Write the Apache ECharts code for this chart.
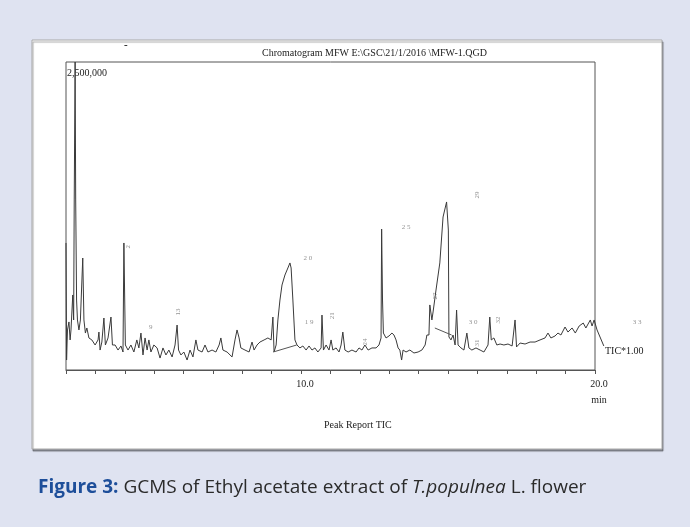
<!DOCTYPE html>
<html>
<head>
<meta charset="utf-8">
<script src="https://cdn.jsdelivr.net/npm/echarts@6/dist/echarts.min.js"></script>
<style>
  html, body { margin: 0; padding: 0; background: #dfe3f1; }
  #chart { width: 690px; height: 527px; }
</style>
</head>
<body>
<div id="chart"></div>
<script>
// retention time (min) and TIC intensity (x1000 counts)
const times = [
  2.00, 2.02, 2.05, 2.10, 2.14, 2.17, 2.23, 2.26, 2.28, 2.31, 2.33, 2.36, 2.39, 2.44, 2.49, 2.57, 2.61, 2.66, 2.71, 2.78,
  2.88, 2.99, 3.09, 3.12, 3.16, 3.22, 3.29, 3.34, 3.43, 3.53, 3.58, 3.67, 3.77, 3.87, 3.94, 3.97, 4.00, 4.02, 4.11, 4.21,
  4.31, 4.41, 4.48, 4.55, 4.62, 4.69, 4.76, 4.82, 4.89, 4.99, 5.10, 5.20, 5.30, 5.40, 5.50, 5.61, 5.71, 5.78, 5.83, 5.91,
  6.01, 6.12, 6.22, 6.32, 6.42, 6.49, 6.63, 6.73, 6.83, 6.97, 7.10, 7.21, 7.27, 7.34, 7.48, 7.65, 7.75, 7.82, 7.89, 7.95,
  8.09, 8.23, 8.33, 8.40, 8.50, 8.60, 8.74, 8.87, 8.98, 9.04, 9.08, 9.15, 9.21, 9.28, 9.35, 9.45, 9.55, 9.62, 9.66, 9.72,
  9.79, 9.86, 9.96, 10.06, 10.17, 10.27, 10.37, 10.47, 10.57, 10.68, 10.71, 10.76, 10.85, 10.95, 11.02, 11.08, 11.19, 11.29, 11.36, 11.42,
  11.49, 11.60, 11.73, 11.87, 11.97, 12.07, 12.17, 12.28, 12.41, 12.55, 12.65, 12.72, 12.74, 12.77, 12.80, 12.89, 12.99, 13.09, 13.16, 13.23,
  13.30, 13.36, 13.42, 13.47, 13.57, 13.70, 13.84, 13.98, 14.11, 14.22, 14.28, 14.35, 14.38, 14.42, 14.45, 14.49, 14.59, 14.72, 14.83, 14.95,
  15.01, 15.03, 15.10, 15.17, 15.24, 15.29, 15.34, 15.44, 15.54, 15.64, 15.71, 15.81, 15.95, 16.09, 16.22, 16.36, 16.42, 16.47, 16.56, 16.66,
  16.77, 16.90, 17.04, 17.18, 17.24, 17.28, 17.33, 17.45, 17.62, 17.79, 17.96, 18.13, 18.30, 18.40, 18.50, 18.64, 18.74, 18.84, 18.98, 19.08,
  19.22, 19.33, 19.46, 19.60, 19.69, 19.84, 19.90, 19.97
];
const tic = [
  1031, 81, 325, 390, 244, 325, 609, 406, 1380, 2500, 1380, 568, 406, 325, 406, 909, 406, 300, 341, 260,
  244, 203, 244, 308, 162, 227, 422, 203, 260, 430, 203, 203, 162, 195, 146, 1031, 1031, 203, 162, 203,
  146, 244, 179, 300, 122, 260, 162, 244, 146, 203, 179, 97, 179, 122, 162, 106, 203, 365, 162, 122,
  146, 81, 162, 106, 244, 162, 146, 203, 146, 162, 146, 203, 260, 162, 146, 106, 244, 325, 260, 179,
  162, 146, 227, 162, 203, 227, 244, 260, 244, 430, 146, 203, 406, 568, 690, 771, 828, 869, 828, 568,
  244, 203, 179, 195, 162, 195, 162, 179, 146, 179, 446, 162, 203, 162, 244, 162, 179, 146, 203, 308,
  162, 146, 162, 146, 179, 162, 203, 162, 179, 179, 203, 260, 1144, 568, 300, 260, 276, 300, 284, 244,
  179, 162, 81, 162, 146, 162, 138, 146, 162, 203, 284, 284, 528, 544, 406, 471, 649, 869, 1242, 1364,
  1136, 268, 244, 284, 203, 487, 203, 179, 162, 300, 179, 162, 179, 162, 146, 203, 430, 244, 260, 203,
  211, 203, 211, 195, 203, 406, 187, 219, 211, 227, 227, 244, 260, 300, 260, 276, 300, 284, 349, 308,
  341, 300, 357, 381, 341, 406, 357, 406
];

// trace leaving the frame on the right, down to the TIC*1.00 note
const tailT = [19.97, 20.07, 20.30];
const tailI = [406, 325, 195];

// straight integration baselines drawn under peaks 20 and 29
const base20T = [9.05, 9.85];
const base20I = [146, 203];
const base29T = [14.55, 15.12];
const base29I = [341, 284];

// peak numbers printed near the trace
const peakText = ['2', '9', '13', '2 0', '1 9', '21', '24', '2 5', '27', '29', '3 0', '31', '32', '3 3'];
const peakT = [4.10, 4.88, 5.80, 10.23, 10.27, 11.05, 12.17, 13.57, 14.56, 15.98, 15.85, 15.98, 16.70, 21.43];
const peakI = [1000, 345, 470, 909, 390, 440, 227, 1161, 600, 1420, 390, 219, 406, 390];
const peakRot = [90, 0, 90, 0, 0, 90, 90, 0, 90, 90, 0, 90, 90, 0];

const xLabels = { 10: '10.0', 20: '20.0\nmin' };
const yMax = 2500;

const serif = 'Liberation Serif';
const chart = echarts.init(document.getElementById('chart'));

const trace = times.map((t, i) => [t, tic[i]]);
const tail = tailT.map((t, i) => [t, tailI[i]]);
const labels = peakT.map((t, i) => ({
  value: [t, peakI[i]],
  label: { formatter: peakText[i], rotate: peakRot[i] }
}));

// 29.39 px per minute, so an axis running to 21 min reaches just past the frame
const pxPerMin = 529 / 18;

chart.setOption({
  backgroundColor: '#dfe3f1',
  animation: false,
  graphic: [
    {
      type: 'rect', z: -10,
      shape: { x: 32, y: 40, width: 630, height: 409 },
      style: { fill: '#fff', stroke: '#a8a8a8', lineWidth: 1, shadowColor: 'rgba(0,0,0,0.35)', shadowOffsetX: 1, shadowOffsetY: 2, shadowBlur: 1 }
    },
    {
      type: 'text', left: 262, top: 48,
      style: { text: 'Chromatogram MFW E:\\GSC\\21/1/2016 \\MFW-1.QGD', font: '10px "Liberation Serif"', fill: '#222' }
    },
    { type: 'text', left: 124, top: 40, style: { text: '-', font: 'bold 11px "Liberation Serif"', fill: '#222' } },
    { type: 'text', left: 605, top: 346, style: { text: 'TIC*1.00', font: '10px "Liberation Serif"', fill: '#222' } },
    { type: 'text', left: 324, top: 420, style: { text: 'Peak Report TIC', font: '10px "Liberation Serif"', fill: '#222' } },
    {
      type: 'text', left: 38, top: 478,
      style: {
        text: '{b|Figure 3:} GCMS of Ethyl acetate extract of {i|T.populnea} L. flower',
        font: '19px "Open Sans"', fill: '#2b2b2b',
        rich: {
          b: { fontFamily: 'Open Sans', fontSize: 19, fontWeight: 'bold', fill: '#1d4e9a', color: '#1d4e9a' },
          i: { fontFamily: 'Open Sans', fontSize: 19, fontStyle: 'italic', fill: '#2b2b2b', color: '#2b2b2b' }
        }
      }
    }
  ],
  grid: [
    { left: 66, top: 62, right: 95, bottom: 157, show: true, borderColor: '#555', borderWidth: 1 },
    { left: 66, top: 62, width: 19 * pxPerMin, bottom: 157 }
  ],
  xAxis: [
    {
      type: 'value', min: 2, max: 20, interval: 1,
      axisLine: { show: true, onZero: false, lineStyle: { color: '#555', width: 1 } },
      axisTick: { show: true, length: 4, lineStyle: { color: '#555' } },
      splitLine: { show: false },
      axisLabel: {
        formatter: v => xLabels[v] || '',
        fontFamily: serif, fontSize: 10, color: '#222',
        margin: 6, lineHeight: 16, padding: [0, 0, 0, 8]
      }
    },
    { type: 'value', gridIndex: 1, min: 2, max: 21, show: false }
  ],
  yAxis: [
    {
      type: 'value', min: 0, max: yMax, interval: yMax,
      axisLine: { show: false }, axisTick: { show: false }, splitLine: { show: false },
      axisLabel: {
        inside: true, showMinLabel: false,
        formatter: v => (v === yMax ? '2,500,000' : ''),
        verticalAlign: 'top', margin: 1, padding: [6, 0, 0, 0],
        fontFamily: serif, fontSize: 10, color: '#222'
      }
    },
    { type: 'value', gridIndex: 1, min: 0, max: yMax, show: false }
  ],
  series: [
    {
      type: 'line', data: trace, showSymbol: false,
      lineStyle: { color: '#3a3a3a', width: 1 }
    },
    {
      type: 'line', data: tail, showSymbol: false, xAxisIndex: 1, yAxisIndex: 1,
      lineStyle: { color: '#3a3a3a', width: 1 }
    },
    {
      type: 'line', data: base20T.map((t, i) => [t, base20I[i]]), showSymbol: false,
      lineStyle: { color: '#555', width: 1 }
    },
    {
      type: 'line', data: base29T.map((t, i) => [t, base29I[i]]), showSymbol: false,
      lineStyle: { color: '#555', width: 1 }
    },
    {
      type: 'scatter', data: labels, symbolSize: 0, clip: false,
      label: { show: true, position: 'inside', fontFamily: serif, fontSize: 7, color: '#777' }
    }
  ]
});
</script>
</body>
</html>
